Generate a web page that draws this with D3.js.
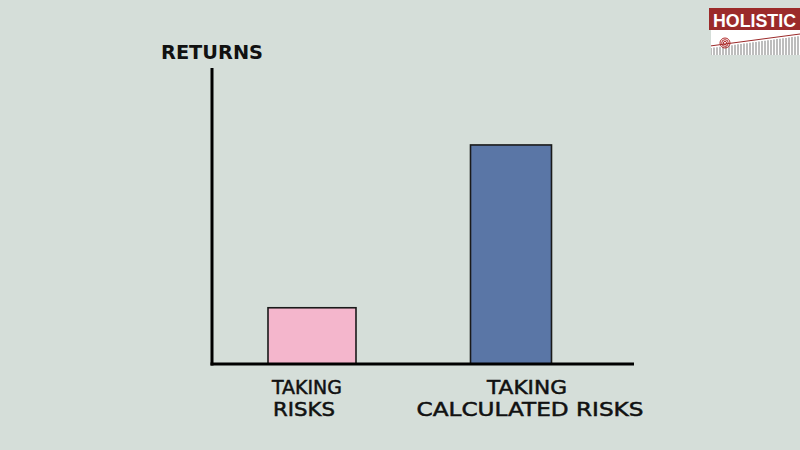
<!DOCTYPE html>
<html><head><meta charset="utf-8">
<script src="https://cdn.jsdelivr.net/npm/d3@7"></script>
<style>
html,body{margin:0;padding:0;background:#d5ded9;}
svg{display:block;}
</style></head>
<body>
<svg id="chart" width="800" height="450"></svg>
<script>
const categories = ["TAKING RISKS", "TAKING CALCULATED RISKS"];
const labelLines = [["TAKING", "RISKS"], ["TAKING", "CALCULATED RISKS"]];
const values = [19, 74];
const colors = ["#f4b6cc", "#5a76a6"];
const yTitle = "RETURNS";

const svg = d3.select("#chart");
svg.append("rect").attr("width", 800).attr("height", 450).attr("fill", "#d5ded9");

const x0 = 212, x1 = 634, yBase = 364, yTop = 68;
const x = d3.scaleOrdinal().domain(categories).range([312, 511]);
const barW = d3.scaleOrdinal().domain(categories).range([88, 81]);
const y = d3.scaleLinear().domain([0, 100]).range([yBase, yTop]);

const font = "'DejaVu Sans', sans-serif";

// bars
svg.selectAll("rect.bar").data(categories).enter().append("rect")
  .attr("class", "bar")
  .attr("x", d => x(d) - barW(d) / 2)
  .attr("width", d => barW(d))
  .attr("y", (d, i) => y(values[i]))
  .attr("height", (d, i) => y(0) - y(values[i]))
  .attr("fill", (d, i) => colors[i])
  .attr("stroke", "#1a1a1a")
  .attr("stroke-width", 1.6);

// axes
svg.append("line").attr("x1", x0).attr("x2", x0).attr("y1", yTop).attr("y2", yBase + 1.5)
  .attr("stroke", "#000").attr("stroke-width", 3);
svg.append("line").attr("x1", x0 - 1.5).attr("x2", x1).attr("y1", yBase).attr("y2", yBase)
  .attr("stroke", "#000").attr("stroke-width", 3);

// y title
svg.append("text").attr("x", 161).attr("y", 59).text(yTitle)
  .attr("font-family", font).attr("font-size", 19).attr("font-weight", "bold")
  .attr("fill", "#111").attr("textLength", 102).attr("lengthAdjust", "spacingAndGlyphs");

// category labels
const lblWidths = [[70, 62], [80, 227]];
const lblOffsets = [[-5, -8], [16, 19]];
labelLines.forEach((lines, i) => {
  lines.forEach((ln, j) => {
    svg.append("text")
      .attr("x", x(categories[i]) + lblOffsets[i][j])
      .attr("y", 394 + j * 22)
      .attr("text-anchor", "middle")
      .attr("font-family", font).attr("font-size", 19)
      .attr("fill", "#111").attr("stroke", "#111").attr("stroke-width", 0.5)
      .attr("textLength", lblWidths[i][j]).attr("lengthAdjust", "spacingAndGlyphs")
      .text(ln);
  });
});

// logo
const logo = svg.append("g");
logo.append("rect").attr("x", 709).attr("y", 30).attr("width", 91).attr("height", 25).attr("fill", "#ffffff");
logo.append("rect").attr("x", 709).attr("y", 8).attr("width", 91).attr("height", 22).attr("fill", "#9b2a2a");
logo.append("text").attr("x", 713).attr("y", 27).text("HOLISTIC")
  .attr("font-family", "'Liberation Sans', Arial, sans-serif").attr("font-weight", "bold")
  .attr("font-size", 18).attr("fill", "#fff")
  .attr("textLength", 83).attr("lengthAdjust", "spacingAndGlyphs");
// stripes
const stripeXs = d3.range(711, 800, 3);
logo.selectAll("line.st").data(stripeXs).enter().append("line")
  .attr("x1", d => d).attr("x2", d => d)
  .attr("y1", d => 48 - (d - 711) * 12 / 89).attr("y2", 55)
  .attr("stroke", "#9a9a9a").attr("stroke-width", 1.3);
logo.append("line").attr("x1", 710).attr("x2", 800).attr("y1", 46).attr("y2", 34)
  .attr("stroke", "#9b2a2a").attr("stroke-width", 1);
// target icon
[5, 3.3, 1.6].forEach(r => {
  logo.append("circle").attr("cx", 725).attr("cy", 43).attr("r", r)
    .attr("fill", "none").attr("stroke", "#b02a2a").attr("stroke-width", 1);
});
logo.append("rect").attr("x", 709).attr("y", 30).attr("width", 2).attr("height", 25).attr("fill", "#d5ded9");
</script>
</body></html>
